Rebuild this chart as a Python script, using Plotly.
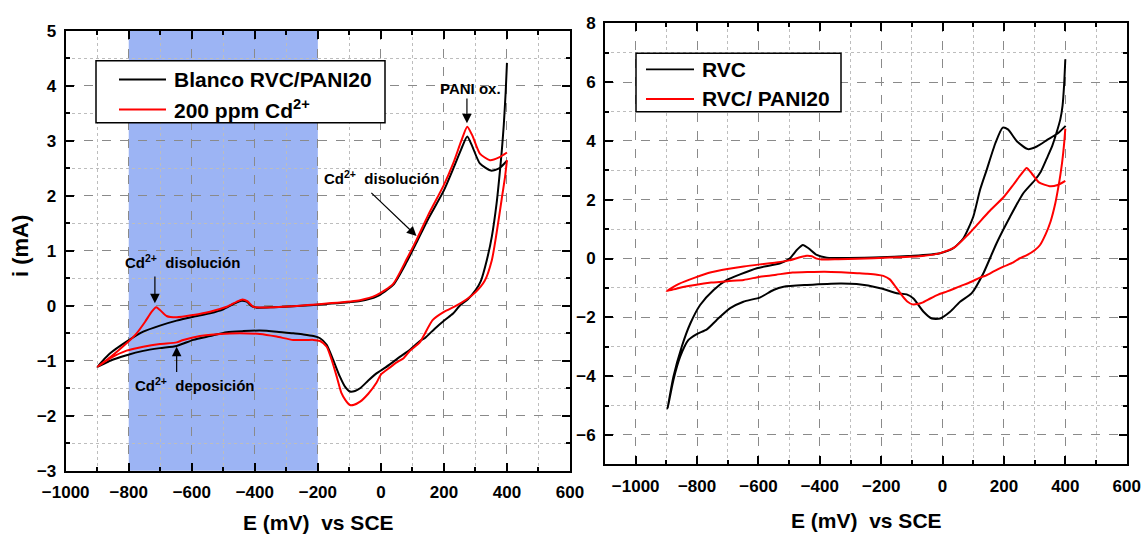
import plotly.graph_objects as go

# ---------------- data (E in mV vs SCE, i in mA) ----------------
# Blanco RVC/PANI20 (black on left panel, red on right panel): reverse scan from 400 mV, then forward scan
blank_E = [400, 396, 390, 384, 378, 367, 352, 336, 317, 300, 276, 250, 229, 200, 170, 141, 124, 92, 60, 39, 15,
           -14, -40, -66, -82, -98, -114, -130, -151, -172, -193, -214, -246, -278, -330, -384, -436, -489, -542,
           -595, -648, -701, -754, -807, -859, -899,
           -859, -807, -754, -701, -648, -595, -542, -500, -468, -442, -426, -410, -394, -340, -278, -172, -66, -14,
           39, 82, 113, 150, 200, 230, 255, 274, 290, 314, 349, 375, 400]
blank_I = [4.42, 3.9, 3.3, 2.85, 2.47, 1.86, 1.26, 0.83, 0.45, 0.28, 0.12, 0.0, -0.14, -0.27, -0.42, -0.58, -0.64,
           -0.80, -0.93, -1.02, -1.12,
           -1.23, -1.36, -1.50, -1.55, -1.56, -1.47, -1.29, -0.99, -0.71, -0.59, -0.55, -0.52, -0.50, -0.47, -0.45,
           -0.46, -0.48, -0.55, -0.62, -0.73, -0.77, -0.82, -0.90, -1.00, -1.11,
           -0.865, -0.652, -0.47, -0.36, -0.27, -0.20, -0.137, -0.064, 0.033, 0.093, 0.075, -0.004, -0.034, -0.025,
           -0.01, 0.033, 0.087, 0.166,
           0.38, 0.80, 1.15, 1.58, 2.1, 2.5, 2.85, 3.08, 2.9, 2.59, 2.46, 2.5, 2.64]

# 200 ppm Cd2+ (red, left panel)
cd_E = [400, 394, 383, 367, 352, 329, 299, 270, 235, 200, 164, 124, 92, 71, 50, 29, 0, -14, -40, -66, -85, -98,
        -112, -125, -140, -156, -172, -193, -214, -236, -278, -331, -384, -447, -510, -574, -627, -648, -701, -754,
        -807, -859, -899,
        -859, -807, -775, -748, -727, -713, -701, -680, -648, -595, -542, -489, -458, -439, -424, -405, -384, -278,
        -172, -66, -14, 39, 82, 113, 150, 200, 230, 255, 274, 290, 314, 346, 375, 400]
cd_I = [2.65, 2.35, 1.93, 1.32, 0.83, 0.45, 0.24, 0.11, -0.01, -0.11, -0.26, -0.66, -0.82, -0.96, -1.03, -1.12,
        -1.25, -1.40, -1.60, -1.744, -1.80, -1.805,
        -1.72, -1.59, -1.29, -0.986, -0.744, -0.64, -0.62, -0.622, -0.622, -0.56, -0.513, -0.501, -0.513, -0.55,
        -0.622, -0.665, -0.695, -0.744, -0.816, -0.956, -1.107,
        -0.938, -0.683, -0.50, -0.289, -0.107, -0.028, -0.076, -0.185, -0.21, -0.167, -0.107, -0.018, 0.073, 0.115,
        0.085, -0.018, -0.03, -0.006,
        0.042, 0.103, 0.194, 0.40, 0.85, 1.2, 1.65, 2.2, 2.6, 3.0, 3.26, 3.1, 2.77, 2.65, 2.7, 2.79]

# RVC (black, right panel)
rvc_E = [400, 396, 391, 384, 372, 358, 342, 320, 301, 263, 220, 176, 133, 95, 57, 24.5, -8, -35, -62, -95, -117,
         -149, -203, -280, -334, -442, -518, -551, -594, -649, -692, -736, -768, -801, -828, -855, -877, -896,
         -877, -850, -822, -790, -746, -703, -660, -605, -529, -497, -475, -455, -437, -410, -377, -225, -95, -8,
         35, 68, 100, 122, 143, 172, 196, 213, 243, 278, 307, 342, 377, 401]
rvc_I = [6.78, 5.9, 5.2, 4.75, 4.3, 3.85, 3.46, 2.95, 2.67, 2.22, 1.42, 0.52, -0.50, -1.18, -1.47, -1.81, -2.04,
         -2.04, -1.81, -1.36, -1.22,
         -1.18, -1.01, -0.87, -0.85, -0.90, -0.96, -1.07, -1.32, -1.47, -1.69, -2.09, -2.41, -2.57, -2.77, -3.34,
         -4.13, -5.10,
         -4.02, -3.0, -2.21, -1.58, -1.07, -0.73, -0.54, -0.33, -0.16, 0.01, 0.29, 0.46, 0.35, 0.12, 0.03, 0.03,
         0.09, 0.18,
         0.35, 0.69, 1.42, 2.33, 2.99, 3.92, 4.45, 4.39, 3.98, 3.72, 3.81, 4.04, 4.27, 4.51]

legend_left = ["Blanco RVC/PANI20", "200 ppm Cd<sup>2+</sup>"]
legend_right = ["RVC", "RVC/ PANI20"]

# ---------------- layout helpers ----------------
W, H = 1144, 536
FONT = "Liberation Sans, Arial, Helvetica, sans-serif"


def px(x):
    return x / W


def py(y):
    return 1 - y / H


fig = go.Figure()
LW = 2
fig.add_trace(go.Scatter(x=blank_E, y=blank_I, mode="lines", xaxis="x", yaxis="y", showlegend=False,
                         line=dict(color="black", width=LW, shape="spline", smoothing=0.6), name=legend_left[0]))
fig.add_trace(go.Scatter(x=cd_E, y=cd_I, mode="lines", xaxis="x", yaxis="y", showlegend=False,
                         line=dict(color="#ff0000", width=LW, shape="spline", smoothing=0.6), name="200 ppm Cd2+"))
fig.add_trace(go.Scatter(x=rvc_E, y=rvc_I, mode="lines", xaxis="x2", yaxis="y2", showlegend=False,
                         line=dict(color="black", width=LW, shape="spline", smoothing=0.6), name=legend_right[0]))
fig.add_trace(go.Scatter(x=blank_E, y=blank_I, mode="lines", xaxis="x2", yaxis="y2", showlegend=False,
                         line=dict(color="#ff0000", width=LW, shape="spline", smoothing=0.6), name=legend_right[1]))

tickfont = dict(family=FONT, size=17, color="black", weight="bold")


def axis_common(**kw):
    d = dict(showline=True, linecolor="black", linewidth=2, mirror="ticks", ticks="inside", ticklen=8,
             tickwidth=1.5, tickcolor="black", tickfont=tickfont, showgrid=True, gridcolor="#8a8a8a",
             griddash="dash", gridwidth=1, zeroline=False, automargin=False,
             minor=dict(showgrid=True, gridcolor="#bdbdbd", griddash="dot", gridwidth=1, ticks="inside",
                        ticklen=4, tickwidth=1.5, tickcolor="black"))
    d.update(kw)
    return d


fig.update_layout(
    width=W, height=H, margin=dict(l=0, r=0, t=0, b=0),
    plot_bgcolor="white", paper_bgcolor="white",
    font=dict(family=FONT, color="black"),
    xaxis=axis_common(domain=[px(65.7), px(570)], range=[-1000, 600], dtick=200, tick0=0,
                      minor_dtick=100, anchor="y", ticklabelstandoff=5),
    yaxis=axis_common(domain=[py(470.7), py(31)], range=[-3, 5], dtick=1, tick0=0,
                      minor_dtick=0.5, anchor="x", ticklabelstandoff=4),
    xaxis2=axis_common(domain=[px(605), px(1126.7)], range=[-1100, 600], dtick=200, tick0=0,
                       minor_dtick=100, anchor="y2", ticklabelstandoff=5),
    yaxis2=axis_common(domain=[py(464.3), py(23.3)], range=[-7, 8], dtick=2, tick0=0,
                       minor_dtick=1, anchor="x2", ticklabelstandoff=4),
    showlegend=False,
)

shapes = []
# blue highlighted window (-800 .. -200 mV)
shapes.append(dict(type="rect", xref="x", yref="y domain", x0=-800, x1=-200, y0=0, y1=1,
                   fillcolor="#9cb4f4", line=dict(width=0), layer="below"))

annotations = []


def txt(x, y, s, size, xanchor="left", yanchor="middle", xref="paper", yref="paper", angle=0):
    annotations.append(dict(x=x, y=y, xref=xref, yref=yref, text=s, showarrow=False, xanchor=xanchor,
                            yanchor=yanchor, textangle=angle,
                            font=dict(family=FONT, size=size, color="black", weight="bold")))


def arrow(x, y, ax, ay, xr="x", yr="y"):
    annotations.append(dict(x=x, y=y, ax=ax, ay=ay, xref=xr, yref=yr, axref=xr, ayref=yr, text="",
                            showarrow=True, arrowhead=2, arrowsize=1.6, arrowwidth=1.2, arrowcolor="black",
                            standoff=0, startstandoff=0))


# legends (drawn manually to reproduce the long sample lines)
def legend(box, rows, labels, colors, line_x, text_x):
    x0, y0, x1, y1 = box
    shapes.append(dict(type="rect", xref="paper", yref="paper", x0=px(x0), x1=px(x1), y0=py(y1), y1=py(y0),
                       fillcolor="white", line=dict(color="black", width=1.5), layer="above"))
    for ry, lab, col in zip(rows, labels, colors):
        shapes.append(dict(type="line", xref="paper", yref="paper", x0=px(line_x[0]), x1=px(line_x[1]),
                           y0=py(ry), y1=py(ry), line=dict(color=col, width=1.8), layer="above"))
        txt(px(text_x), py(ry), lab, 21)


legend((96, 60.7, 385, 122.7), (79.5, 109.5), legend_left, ("black", "#ff0000"), (119, 166), 172)
legend((636, 53.3, 841, 111.7), (69.3, 99), legend_right, ("black", "#ff0000"), (646, 694), 700)

# axis titles
txt(px(318), py(522), "E (mV) \u00a0vs SCE", 21, xanchor="center")
txt(px(866), py(520), "E (mV) \u00a0vs SCE", 21, xanchor="center")
txt(px(21), py(246), "i (mA)", 22, xanchor="center", angle=-90)

# in-plot annotations (left panel)
txt(283, 3.96, "PANI ox.", 15, xanchor="center", xref="x", yref="y")
arrow(273, 3.32, 273, 3.80)
txt(-187, 2.33, "Cd<sup>2+</sup>\u00a0 disolución", 15, xref="x", yref="y")
arrow(113, 1.27, -35, 2.08)
txt(-819, 0.80, "Cd<sup>2+</sup>\u00a0 disolución", 15, xref="x", yref="y")
arrow(-717, 0.045, -717, 0.56)
txt(-786, -1.43, "Cd<sup>2+</sup>\u00a0 deposición", 15, xref="x", yref="y")
arrow(-648, -0.744, -648, -1.23)

fig.update_layout(shapes=shapes, annotations=annotations)
fig.write_html("out.html")
